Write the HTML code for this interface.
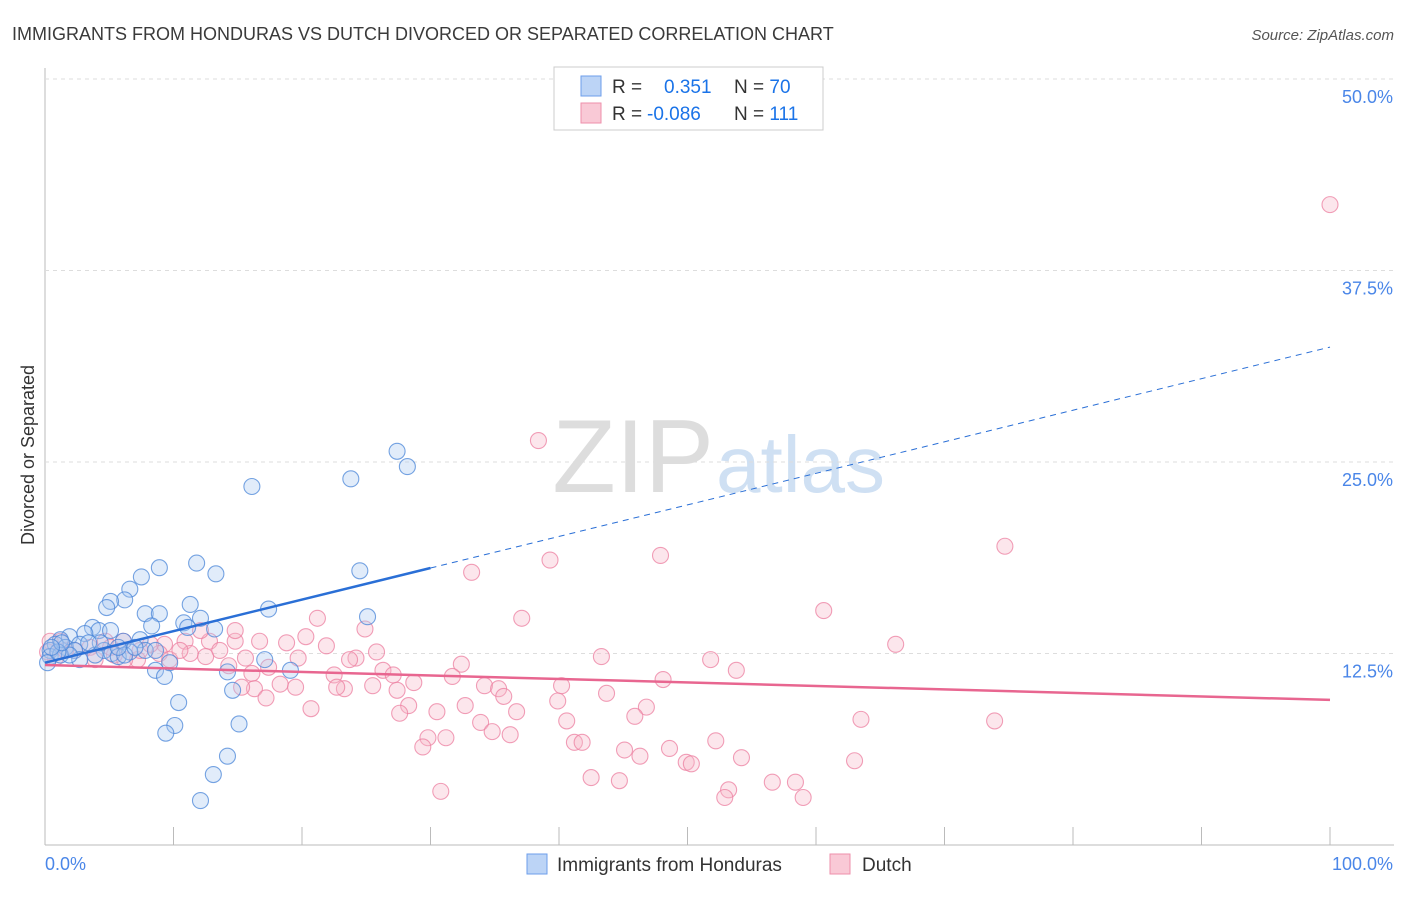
<!DOCTYPE html>
<html><head><meta charset="utf-8"><style>
body{margin:0;background:#fff;font-family:"Liberation Sans",sans-serif;}
svg text{font-family:"Liberation Sans",sans-serif;}
</style></head><body>
<svg id="chart" width="1406" height="892">
<text x="12" y="40" font-size="18" fill="#3a3a3a">IMMIGRANTS FROM HONDURAS VS DUTCH DIVORCED OR SEPARATED CORRELATION CHART</text>
<text x="1394" y="40" font-size="15" fill="#555" font-style="italic" text-anchor="end">Source: ZipAtlas.com</text>
<text x="714" y="492" font-size="104" fill="#ddd" text-anchor="end" font-family="Liberation Serif">ZIP</text>
<text x="716" y="492" font-size="80" fill="#cfe0f3">atlas</text>
<g id="grid"></g><g id="pts"></g><g id="lines"></g>
<text transform="translate(34,455) rotate(-90)" font-size="18" fill="#333" text-anchor="middle">Divorced or Separated</text>
<text x="45" y="870" font-size="18" fill="#4a86e8">0.0%</text>
<text x="1393" y="870" font-size="18" fill="#4a86e8" text-anchor="end">100.0%</text>
<g>
<rect x="554" y="67" width="269" height="63" fill="#fff" stroke="#ccc"/>
<rect x="581" y="76" width="20" height="20" fill="#bcd4f6" stroke="#6d9eeb"/>
<rect x="581" y="103" width="20" height="20" fill="#f9c9d6" stroke="#ee8fab"/>
<text x="612" y="93" font-size="19" fill="#333">R = <tspan x="664" fill="#1a73e8">0.351</tspan><tspan x="734">N = </tspan><tspan fill="#1a73e8">70</tspan></text>
<text x="612" y="120" font-size="19" fill="#333">R = <tspan x="647" fill="#1a73e8">-0.086</tspan><tspan x="734">N = </tspan><tspan fill="#1a73e8">111</tspan></text>
</g>
<g>
<rect x="527" y="854" width="20" height="20" fill="#bcd4f6" stroke="#6d9eeb"/>
<text x="557" y="871" font-size="19" fill="#333">Immigrants from Honduras</text>
<rect x="830" y="854" width="20" height="20" fill="#f9c9d6" stroke="#ee8fab"/>
<text x="862" y="871" font-size="19" fill="#333">Dutch</text>
</g>
</svg>
<script>
const yTicks=[12.5,25,37.5,50];
const yTickLabels=["12.5%","25.0%","37.5%","50.0%"];
const xTicks=[0,10,20,30,40,50,60,70,80,90,100];
const blueX=[16.1,23.8,27.4,28.2,24.5,11.8,8.9,13.3,7.5,6.6,6.2,5.1,4.8,7.8,8.9,11.3,17.4,25.1,12.1,10.8,8.3,11.1,13.2,3.7,4.2,5.1,3.1,1.9,1.2,7.4,6.1,0.8,1.6,2.7,0.4,2.3,4.6,5.2,5.7,6.6,7.8,0.4,1.2,2.7,0.2,17.1,19.1,14.2,8.6,9.3,10.4,10.1,9.4,15.1,14.6,14.2,13.1,12.1,6.2,7.0,3.9,4.3,1.9,1.0,3.4,5.7,8.6,9.7,1.3,0.5];
const blueY=[23.4,23.9,25.7,24.7,17.9,18.4,18.1,17.7,17.5,16.7,16.0,15.9,15.5,15.1,15.1,15.7,15.4,14.9,14.8,14.5,14.3,14.2,14.1,14.2,14.0,14.0,13.8,13.6,13.4,13.4,13.3,13.1,12.9,13.1,12.7,12.7,12.7,12.5,12.3,12.6,12.7,12.3,12.4,12.1,11.9,12.1,11.4,11.3,11.4,11.0,9.3,7.8,7.3,7.9,10.1,5.8,4.6,2.9,12.4,12.9,12.4,13.2,12.4,12.6,13.2,12.9,12.7,11.9,13.2,12.9];
const pinkX=[100,38.4,74.7,47.9,39.3,33.2,60.6,37.1,21.2,24.9,66.2,20.3,21.9,16.7,14.8,18.8,12.8,10.9,9.3,6.1,4.7,1.2,0.4,25.8,24.2,23.7,19.7,15.6,12.5,11.3,8.9,7.2,43.3,51.8,32.4,53.8,26.3,14.3,16.1,17.4,31.7,22.5,27.1,48.1,34.2,35.3,40.2,28.7,25.5,23.3,22.7,19.5,18.3,16.3,15.3,27.4,35.7,43.7,39.9,17.2,28.3,32.7,36.7,20.7,46.8,27.6,30.5,45.9,63.5,73.9,40.6,33.9,34.8,36.2,29.8,31.2,41.2,41.8,29.4,52.2,48.6,45.1,46.3,54.2,49.9,50.3,63.0,42.5,44.7,56.6,58.4,53.2,30.8,52.9,59.0,2.3,3.5,5.4,0.8,8.2,6.2,9.7,13.6,12.1,10.5,3.9,1.6,7.4,5.1,14.8,0.2];
const pinkY=[41.8,26.4,19.5,18.9,18.6,17.8,15.3,14.8,14.8,14.1,13.1,13.6,13.0,13.3,13.3,13.2,13.3,13.3,13.1,13.3,13.3,13.3,13.3,12.6,12.2,12.1,12.2,12.2,12.3,12.5,12.5,12.1,12.3,12.1,11.8,11.4,11.4,11.7,11.2,11.6,11.0,11.1,11.1,10.8,10.4,10.2,10.4,10.6,10.4,10.2,10.3,10.3,10.5,10.2,10.3,10.1,9.7,9.9,9.4,9.6,9.1,9.1,8.7,8.9,9.0,8.6,8.7,8.4,8.2,8.1,8.1,8.0,7.4,7.2,7.0,7.0,6.7,6.7,6.4,6.8,6.3,6.2,5.8,5.7,5.4,5.3,5.5,4.4,4.2,4.1,4.1,3.6,3.5,3.1,3.1,12.7,12.9,12.4,12.2,13.1,12.1,12.1,12.7,14.0,12.7,12.1,12.7,12.7,12.9,14.0,12.6];
const blueTrend=[11.9,32.5];
const pinkTrend=[11.75,9.47];
const blueSolidEnd=30;
const NS="http://www.w3.org/2000/svg";
const X0=45,X1=1330,Y0=845,PXPER=191.5/12.5;
function sx(v){return X0+(X1-X0)*v/100;}
function sy(v){return Y0-v*PXPER;}
function mk(t,a,p){const e=document.createElementNS(NS,t);for(const k in a)e.setAttribute(k,a[k]);p.appendChild(e);return e;}
const grid=document.getElementById('grid'),pts=document.getElementById('pts'),lines=document.getElementById('lines');
let ax=mk('line',{x1:X0,y1:68,x2:X0,y2:Y0,stroke:'#bbb'},grid);


let bx=mk('line',{x1:X0,y1:Y0,x2:1394,y2:Y0,stroke:'#bbb'},grid);


yTicks.forEach((t,i)=>{
 const g=mk('line',{x1:X0,y1:sy(t),x2:1394,y2:sy(t),stroke:'#ddd','stroke-dasharray':'4,4'},grid);
 
 
 const l=mk('text',{x:1393,y:sy(t)+24,'font-size':18,fill:'#4a86e8','text-anchor':'end'},grid);
 l.textContent=yTickLabels[i];
 
 
});
xTicks.forEach(t=>{
 const k=mk('line',{x1:sx(t),y1:Y0-18,x2:sx(t),y2:Y0,stroke:'#bbb'},grid);
 
 
});
function dots(X,Y,fill,stroke,name){
 X.forEach((x,i)=>{
  const c=mk('circle',{cx:sx(x),cy:sy(Y[i]),r:8,fill:fill,'fill-opacity':0.35,stroke:stroke,'stroke-opacity':0.75,'stroke-width':1.1},pts);
  
  
 });
}
dots(pinkX,pinkY,'#f7b6c8','#ec7fa0','dutch-point');
dots(blueX,blueY,'#a9c8f2','#4a86d8','honduras-point');
function tv(tr,x){return tr[0]+(tr[1]-tr[0])*x/100;}
let b1=mk('line',{x1:sx(0),y1:sy(tv(blueTrend,0)),x2:sx(blueSolidEnd),y2:sy(tv(blueTrend,blueSolidEnd)),stroke:'#2a6fd6','stroke-width':2.5},lines);


let b2=mk('line',{x1:sx(blueSolidEnd),y1:sy(tv(blueTrend,blueSolidEnd)),x2:sx(100),y2:sy(tv(blueTrend,100)),stroke:'#2a6fd6','stroke-width':1,'stroke-dasharray':'6,5'},lines);


let p1=mk('line',{x1:sx(0),y1:sy(tv(pinkTrend,0)),x2:sx(100),y2:sy(tv(pinkTrend,100)),stroke:'#e86690','stroke-width':2.5},lines);


</script>
</body></html>
